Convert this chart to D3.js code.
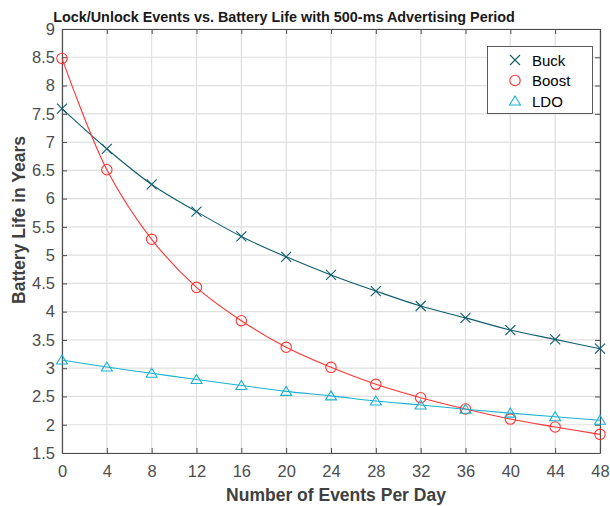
<!DOCTYPE html>
<html><head><meta charset="utf-8">
<script src="https://cdn.jsdelivr.net/npm/d3@7"></script>
<style>body{margin:0;background:#fff}svg{display:block}</style>
</head><body><svg id="c" width="610" height="506"></svg>
<script>
const events = [0,4,8,12,16,20,24,28,32,36,40,44,48];
const buck  = [7.59,6.88,6.25,5.77,5.33,4.97,4.65,4.365,4.10,3.89,3.675,3.51,3.345];
const boost = [8.48,6.51,5.28,4.43,3.84,3.37,3.015,2.715,2.478,2.278,2.10,1.96,1.83];
const ldo   = [3.145,3.02,2.91,2.80,2.695,2.59,2.51,2.42,2.35,2.275,2.205,2.14,2.08];
const xTicks = [0,4,8,12,16,20,24,28,32,36,40,44,48];
const yTicks = [1.5,2,2.5,3,3.5,4,4.5,5,5.5,6,6.5,7,7.5,8,8.5,9];
const seriesNames = ["Buck","Boost","LDO"];

const svg = d3.select("#c");
const L=62, R=600, T=29, B=453;
const x = d3.scaleLinear().domain([0,48]).range([L,R]);
const y = d3.scaleLinear().domain([1.5,9]).range([B,T]);
const axisCol="#4d4d4d", font="'Liberation Sans', Arial, Helvetica, sans-serif";

// grid
const g = svg.append("g");
g.selectAll(".gx").data(xTicks).join("line").attr("x1",d=>x(d)).attr("x2",d=>x(d)).attr("y1",T).attr("y2",B)
 .attr("stroke","#dfdfdf").attr("stroke-width",1.2);
g.selectAll(".gy").data(yTicks).join("line").attr("y1",d=>y(d)).attr("y2",d=>y(d)).attr("x1",L).attr("x2",R)
 .attr("stroke","#dfdfdf").attr("stroke-width",1.2);

// axes
const ax = d3.axisBottom(x).tickValues(xTicks).tickSizeInner(-5).tickSizeOuter(0).tickPadding(12);
const ay = d3.axisLeft(y).tickValues(yTicks).tickSizeInner(-5).tickSizeOuter(0).tickPadding(7).tickFormat(d3.format("~g"));
const axT = d3.axisTop(x).tickValues(xTicks).tickSizeInner(-5).tickSizeOuter(0).tickFormat("");
const ayR = d3.axisRight(y).tickValues(yTicks).tickSizeInner(-5).tickSizeOuter(0).tickFormat("");
function style(sel){
  sel.selectAll("path").attr("stroke",axisCol).attr("stroke-width",1.2);
  sel.selectAll("line").attr("stroke",axisCol).attr("stroke-width",1);
  sel.selectAll("text").attr("fill","#4d4d4d").style("font-family",font).style("font-size","16.5px");
}
svg.append("g").attr("transform",`translate(0,${B})`).call(ax).call(style);
svg.append("g").attr("transform",`translate(${L},0)`).call(ay).call(style);
svg.append("g").attr("transform",`translate(0,${T})`).call(axT).call(style);
svg.append("g").attr("transform",`translate(${R},0)`).call(ayR).call(style);

// series
const cols = {Buck:"#0e5c6c", Boost:"#ff3333", LDO:"#1ab3cf"};
const data = {Buck:buck, Boost:boost, LDO:ldo};
const line = d3.line().x((d,i)=>x(events[i])).y(d=>y(d)).curve(d3.curveCatmullRom);
function marker(sel, name, px, py){
  const c = cols[name];
  if(name==="Buck"){
    const s=5;
    sel.append("path").attr("d",`M${px-s},${py-s}L${px+s},${py+s}M${px-s},${py+s}L${px+s},${py-s}`)
      .attr("stroke",c).attr("stroke-width",1.1).attr("fill","none");
  } else if(name==="Boost"){
    sel.append("circle").attr("cx",px).attr("cy",py).attr("r",5.2).attr("stroke",c).attr("stroke-width",1.1).attr("fill","none");
  } else {
    const w=5.5,h=4.5;
    sel.append("path").attr("d",`M${px},${py-h-0.5}L${px+w},${py+h-0.5}L${px-w},${py+h-0.5}Z`)
      .attr("stroke",c).attr("stroke-width",1.1).attr("fill","none");
  }
}
const clipG = svg.append("g");
seriesNames.forEach(n=>{
  clipG.append("path").datum(data[n]).attr("d",line).attr("fill","none").attr("stroke",cols[n]).attr("stroke-width",1.1);
  data[n].forEach((v,i)=>marker(clipG,n,x(events[i]),y(v)));
});

// legend
const lg = svg.append("g");
lg.append("rect").attr("x",487.5).attr("y",46.5).attr("width",105).attr("height",67).attr("fill","#fff").attr("stroke","#333").attr("stroke-width",0.8);
seriesNames.forEach((n,i)=>{
  const yy = 60 + i*20.5;
  marker(lg,n,515,yy);
  lg.append("text").attr("x",532).attr("y",yy+5.5).text(n).attr("fill","#000")
    .style("font-family",font).style("font-size","15px");
});

// titles
svg.append("text").attr("x",284).attr("y",22).attr("text-anchor","middle").text("Lock/Unlock Events vs. Battery Life with 500-ms Advertising Period")
  .style("font-family",font).style("font-size","14.4px").style("font-weight","bold").attr("fill","#1a1a1a");
svg.append("text").attr("x",336).attr("y",501).attr("text-anchor","middle").text("Number of Events Per Day")
  .style("font-family",font).style("font-size","17.5px").style("font-weight","bold").attr("fill","#404040");
svg.append("text").attr("transform","translate(25,220) rotate(-90)").attr("text-anchor","middle").text("Battery Life in Years")
  .style("font-family",font).style("font-size","17.5px").style("font-weight","bold").attr("fill","#404040");
</script></body></html>
